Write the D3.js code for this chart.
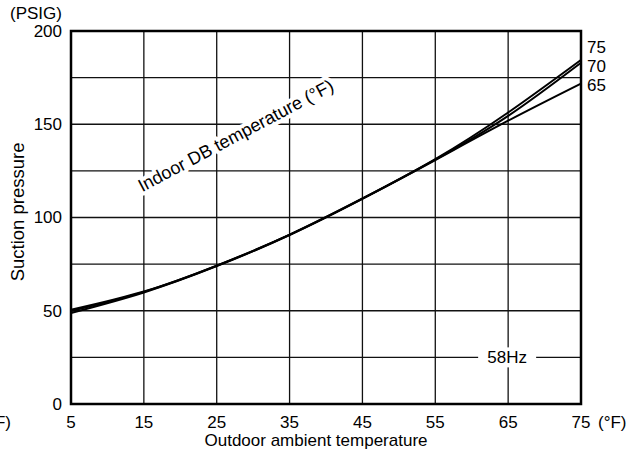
<!DOCTYPE html>
<html><head><meta charset="utf-8">
<script src="https://cdn.jsdelivr.net/npm/d3@7"></script>
<style>
body{margin:0;background:#fff;}
svg{display:block;font-family:"Liberation Sans",Arial,sans-serif;}
</style></head>
<body><svg id="c" width="634" height="456"></svg>
<script>
const outdoorTemps = [5, 15, 25, 35, 45, 55, 65, 75];
const indoorLabels = ["75", "70", "65"];
const suction75 = [50.5, 60.3, 74.2, 90.8, 110.2, 131.3, 156.3, 184.5];
const suction70 = [49.8, 60.1, 74.1, 90.7, 110.1, 131.0, 154.5, 183.0];
const suction65 = [48.8, 59.8, 73.9, 90.6, 110.0, 130.8, 151.9, 171.8];
const xTicks = [5, 15, 25, 35, 45, 55, 65, 75];
const yTicks = [0, 50, 100, 150, 200];
const yGrid = [0, 25, 50, 75, 100, 125, 150, 175, 200];

const series = [suction75, suction70, suction65];
const svg = d3.select("#c");
const FS = 17;
const x = d3.scaleLinear().domain([5, 75]).range([71, 581]);
const y = d3.scaleLinear().domain([0, 200]).range([404, 31]);

// grid
const g = svg.append("g");
g.selectAll(".vx").data(xTicks).join("line")
  .attr("x1", d => x(d)).attr("x2", d => x(d))
  .attr("y1", y(0)).attr("y2", y(200))
  .attr("stroke", "#111").attr("stroke-width", 1.3);
g.selectAll(".hy").data(yGrid).join("line")
  .attr("x1", x(5)).attr("x2", x(75))
  .attr("y1", d => y(d)).attr("y2", d => y(d))
  .attr("stroke", "#111").attr("stroke-width", 1.3);

// curves
const line = d3.line().x((d, i) => x(outdoorTemps[i])).y(d => y(d)).curve(d3.curveNatural);
svg.selectAll(".curve").data(series).join("path")
  .attr("d", d => line(d)).attr("fill", "none")
  .attr("stroke", "#000").attr("stroke-width", 2);

// annotations with white backgrounds
svg.append("text")
  .attr("transform", `translate(${x(28.0)},${y(141)}) rotate(-28)`)
  .attr("text-anchor", "middle").attr("font-size", 18)
  .attr("fill", "#000").attr("stroke", "#fff").attr("stroke-width", 8)
  .attr("paint-order", "stroke").attr("stroke-linejoin", "round")
  .text("Indoor DB temperature (°F)");

svg.append("rect")
  .attr("x", x(65) - 30).attr("y", y(25) - 10).attr("width", 58).attr("height", 20)
  .attr("fill", "#fff");
svg.append("text").attr("x", x(65) - 1).attr("y", y(25)).attr("dy", "0.35em")
  .attr("text-anchor", "middle").attr("font-size", FS).text("58Hz");

// frame
svg.append("rect").attr("x", x(5)).attr("y", y(200))
  .attr("width", x(75) - x(5)).attr("height", y(0) - y(200))
  .attr("fill", "none").attr("stroke", "#000").attr("stroke-width", 2.5);

// axes labels
svg.selectAll(".yl").data(yTicks).join("text")
  .attr("x", 62).attr("y", d => y(d)).attr("dy", "0.35em")
  .attr("text-anchor", "end").attr("font-size", FS).text(d => d);
svg.selectAll(".xl").data(xTicks).join("text")
  .attr("x", d => x(d)).attr("y", 422).attr("dy", "0.35em")
  .attr("text-anchor", "middle").attr("font-size", FS).text(d => d);
svg.append("text").attr("x", x(75) + 17).attr("y", 422).attr("dy", "0.35em")
  .attr("font-size", FS).text("(°F)");
svg.append("text").attr("x", 11).attr("y", 422).attr("dy", "0.35em")
  .attr("text-anchor", "end").attr("font-size", FS).text("(°F)");
svg.append("text").attr("x", 10).attr("y", 13).attr("dy", "0.35em")
  .attr("font-size", FS).text("(PSIG)");
svg.append("text").attr("x", 316).attr("y", 440).attr("dy", "0.35em")
  .attr("text-anchor", "middle").attr("font-size", FS).text("Outdoor ambient temperature");
svg.append("text").attr("transform", `translate(18,${y(103)}) rotate(-90)`)
  .attr("dy", "0.35em").attr("text-anchor", "middle").attr("font-size", 18.5)
  .text("Suction pressure");

// right-side series labels
svg.selectAll(".sl").data(indoorLabels).join("text")
  .attr("x", 587).attr("y", (d, i) => 47 + i * 19).attr("dy", "0.35em")
  .attr("font-size", FS).text(d => d);
</script></body></html>
